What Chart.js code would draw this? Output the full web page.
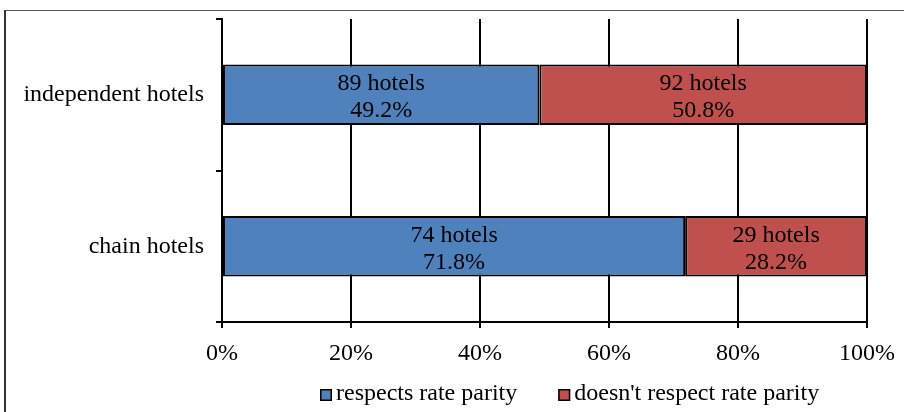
<!DOCTYPE html>
<html>
<head>
<meta charset="utf-8">
<script src="https://cdn.jsdelivr.net/npm/chart.js@4/dist/chart.umd.min.js"></script>
<style>
  html, body { margin: 0; padding: 0; background: #fff; }
  #wrap { position: relative; width: 904px; height: 412px; overflow: hidden; }
  #frame { position: absolute; left: 4px; top: 10px; width: 920px; height: 420px;
           border-left: 2px solid #333; border-top: 1px solid #555; box-sizing: border-box; }
  canvas { position: absolute; left: 0; top: 0; }
</style>
</head>
<body>
<div id="wrap">
  <div id="frame"></div>
  <canvas id="c" width="904" height="412"></canvas>
</div>
<script>
// Hotel groups shown on the category axis
const categories = ['independent hotels', 'chain hotels'];
// Number of hotels in each group
const respectsCount = [89, 74];
const notRespectsCount = [92, 29];
// Share of each group, in percent
const respectsPct = [49.2, 71.8];
const notRespectsPct = [50.8, 28.2];
// Value axis tick labels
const xTicks = ['0%', '20%', '40%', '60%', '80%', '100%'];
const seriesNames = ['respects rate parity', "doesn't respect rate parity"];

const FONT = "'Liberation Serif', 'Times New Roman', serif";
const FONT_SIZE = 24;
const BLUE = '#4F81BD';
const RED = '#C0504D';

// Two-line labels ("N hotels" / "P%") centred in every bar segment
const segmentLabels = {
  id: 'segmentLabels',
  afterDatasetsDraw(chart) {
    const ctx = chart.ctx;
    ctx.save();
    ctx.font = FONT_SIZE + 'px ' + FONT;
    ctx.fillStyle = '#000';
    ctx.textAlign = 'center';
    ctx.textBaseline = 'middle';
    chart.data.datasets.forEach((ds, di) => {
      chart.getDatasetMeta(di).data.forEach((bar, i) => {
        const cx = (bar.x + bar.base) / 2;
        ctx.fillText(ds.counts[i] + ' hotels', cx, bar.y - 11);
        ctx.fillText(ds.data[i].toFixed(1) + '%', cx, bar.y + 16);
      });
    });
    ctx.restore();
  }
};

// Legend row beneath the value axis
const bottomLegend = {
  id: 'bottomLegend',
  afterDraw(chart) {
    const ctx = chart.ctx;
    ctx.save();
    ctx.font = FONT_SIZE + 'px ' + FONT;
    ctx.textBaseline = 'middle';
    const box = 12, gap = 4, spacing = 41;
    const items = chart.data.datasets.map(ds => ({ text: ds.label, color: ds.backgroundColor, w: ctx.measureText(ds.label).width }));
    const total = items.reduce((s, it) => s + box + gap + it.w, 0) + spacing * (items.length - 1);
    let x = Math.round(570 - total / 2);
    const y = 394;
    items.forEach(it => {
      ctx.fillStyle = it.color;
      ctx.fillRect(x, y - 5, box, box);
      ctx.strokeStyle = '#000';
      ctx.lineWidth = 1.5;
      ctx.strokeRect(x + 0.75, y - 5 + 0.75, box - 1.5, box - 1.5);
      ctx.fillStyle = '#000';
      ctx.textAlign = 'left';
      ctx.fillText(it.text, x + box + gap, y);
      x += box + gap + it.w + spacing;
    });
    ctx.restore();
  }
};

new Chart(document.getElementById('c'), {
  type: 'bar',
  data: {
    labels: categories,
    datasets: [
      { label: seriesNames[0], data: respectsPct, counts: respectsCount, backgroundColor: BLUE, borderColor: '#000', borderWidth: 2, borderSkipped: false },
      { label: seriesNames[1], data: notRespectsPct, counts: notRespectsCount, backgroundColor: RED, borderColor: '#000', borderWidth: 2, borderSkipped: false }
    ]
  },
  options: {
    indexAxis: 'y',
    responsive: false,
    animation: false,
    devicePixelRatio: 1,
    layout: { padding: { left: 0, right: 37, top: 19, bottom: 0 } },
    datasets: { bar: { barPercentage: 0.4, categoryPercentage: 1 } },
    plugins: { legend: { display: false }, tooltip: { enabled: false } },
    scales: {
      x: {
        stacked: true,
        min: 0, max: 100,
        afterFit(s) { s.height = 90; s.paddingLeft = 0; s.paddingRight = 0; },
        ticks: {
          stepSize: 20,
          padding: 11,
          color: '#000',
          font: { family: FONT, size: FONT_SIZE },
          callback: (v) => xTicks[v / 20]
        },
        grid: { color: '#000', lineWidth: 2, tickLength: 6, drawOnChartArea: true },
        border: { color: '#000', width: 2 }
      },
      y: {
        stacked: true,
        afterFit(s) { s.width = 222; s.paddingTop = 0; s.paddingBottom = 0; },
        ticks: { color: '#000', padding: 12, font: { family: FONT, size: FONT_SIZE } },
        grid: { offset: true, color: '#000', lineWidth: 2, tickLength: 6, drawOnChartArea: false },
        border: { color: '#000', width: 2 }
      }
    }
  },
  plugins: [segmentLabels, bottomLegend]
});
</script>
</body>
</html>
